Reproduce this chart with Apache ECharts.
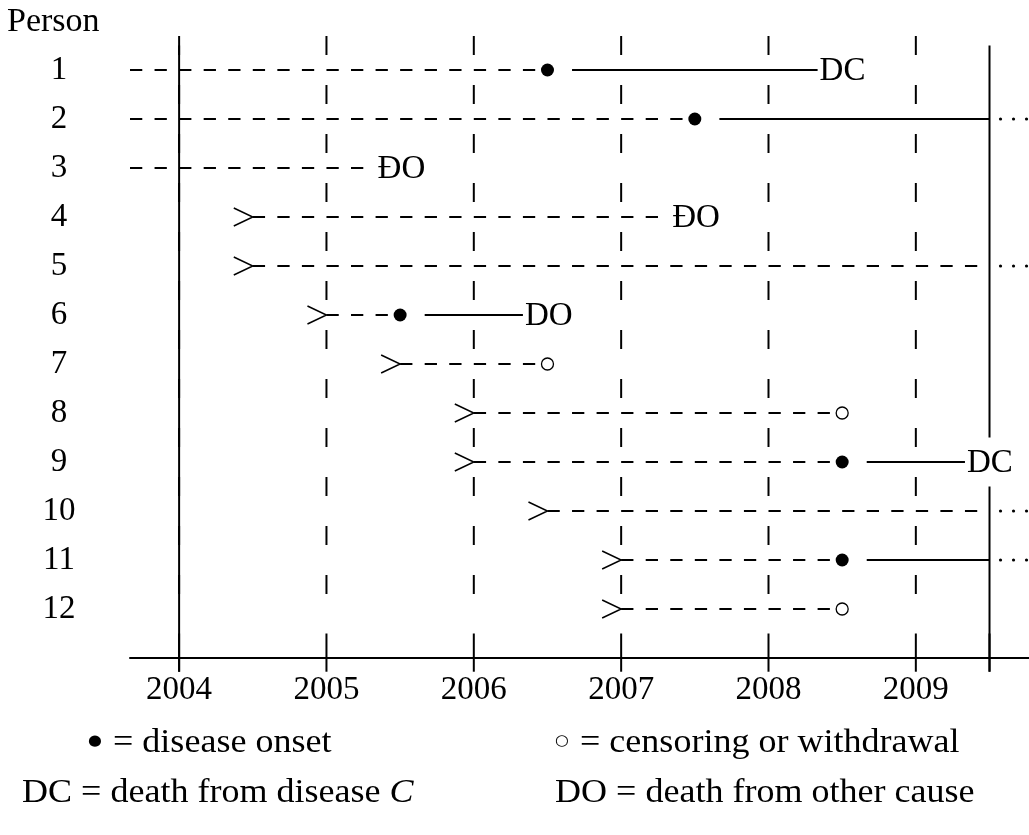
<!DOCTYPE html>
<html>
<head>
<meta charset="utf-8">
<title>Cohort follow-up diagram</title>
<script src="https://cdn.jsdelivr.net/npm/echarts@6/dist/echarts.min.js"></script>
<style>
  html, body { margin: 0; padding: 0; background: #fff; }
  #main { width: 1029px; height: 835px; }
</style>
</head>
<body>
<div id="main"></div>
<script>
// ---- data ---------------------------------------------------------------
const persons = ['1', '2', '3', '4', '5', '6', '7', '8', '9', '10', '11', '12'];
// calendar time each person enters follow-up (null = already followed before 2004)
const entryYear = [null, null, null, 2004.5, 2004.5, 2005, 2005.5, 2006, 2006, 2006.5, 2007, 2007];
// disease onset (null = no onset observed)
const onsetYear = [2006.5, 2007.5, null, null, null, 2005.5, null, null, 2008.5, null, 2008.5, null];
// end of the individual line (death, censoring, or end of study)
const endYear = [2008 + 1/3, 2009.5, 2005 + 1/3, 2007 + 1/3, 2009.5, 2006 + 1/3, 2006.5, 2008.5, 2009 + 1/3, 2009.5, 2009.5, 2008.5];
// how each line ends
const outcome = ['DC', 'open', 'DO', 'DO', 'open', 'DO', 'censored', 'censored', 'DC', 'open', 'open', 'censored'];
const endLabel = ['DC', '', 'ĐO', 'ĐO', '', 'DO', '', '', 'DC', '', '', ''];
const yearTicks = [2004, 2005, 2006, 2007, 2008, 2009];
const studyStart = 2004;
const studyEnd = 2009.5;
const legendRows = [
  ['{b|●} = disease onset', '{c|○} = censoring or withdrawal'],
  ['DC = death from disease {it|C}', 'DO = death from other cause']
];

// ---- layout / style -----------------------------------------------------
const FONT = "'Liberation Serif', 'DejaVu Serif', serif";
const FS = 33;
const LFS = 34;
const X_MIN = 2003 + 2/3;
const X_MAX = 2009.768;
const GRID_LEFT = 130;
const YEAR_PX = (1029 - GRID_LEFT) / (X_MAX - X_MIN);
const DASH = YEAR_PX / 12;          // dash and gap of follow-up lines
const ONSET_GAP = 1 / 6;            // blank space after an onset dot (years)
const ROW_AXIS = 13;                // row position of the time axis
const TICK_UP = 0.5, TICK_DOWN = 0.28;
const allTicks = yearTicks.concat([studyEnd]);

const chart = echarts.init(document.getElementById('main'), null, { renderer: 'canvas' });

function renderPerson(params, api) {
  const i = api.value(0);
  const row = i + 1;
  const late = entryYear[i] != null;
  const start = late ? entryYear[i] : X_MIN;
  const onset = onsetYear[i];
  const end = endYear[i];
  const dashEnd = onset != null ? onset : end;
  const p0 = api.coord([start, row]);
  const p1 = api.coord([dashEnd, row]);
  const kids = [];
  kids.push({
    type: 'line',
    shape: { x1: p0[0], y1: p0[1], x2: p1[0], y2: p1[1] },
    style: { stroke: '#000', lineWidth: 2, lineDash: [DASH, DASH], lineCap: 'butt' }
  });
  if (late) {
    kids.push({
      type: 'polyline',
      shape: { points: [[p0[0] - 19, p0[1] - 9], [p0[0], p0[1]], [p0[0] - 19, p0[1] + 9]] },
      style: { stroke: '#000', fill: null, lineWidth: 1.5 }
    });
  }
  if (onset != null) {
    const s = api.coord([onset + ONSET_GAP, row]);
    const e = api.coord([end, row]);
    kids.push({
      type: 'line',
      shape: { x1: s[0], y1: s[1], x2: e[0], y2: e[1] },
      style: { stroke: '#000', lineWidth: 2 }
    });
    kids.push({ type: 'circle', shape: { cx: p1[0], cy: p1[1], r: 6.5 }, style: { fill: '#000' } });
  }
  const pe = api.coord([end, row]);
  if (outcome[i] === 'censored') {
    kids.push({ type: 'circle', shape: { cx: pe[0], cy: pe[1], r: 6 },
      style: { fill: '#fff', stroke: '#000', lineWidth: 1.3 } });
  }
  if (endLabel[i]) {
    kids.push({ type: 'text', x: pe[0] + 2, y: pe[1] + 1,
      style: { text: endLabel[i], font: FS + 'px ' + FONT, fill: '#000',
        align: 'left', verticalAlign: 'middle' } });
  }
  if (outcome[i] === 'open') {
    for (let k = 0; k < 3; k++) {
      kids.push({ type: 'circle', shape: { cx: pe[0] + 11 + 13 * k, cy: pe[1], r: 1.6 }, style: { fill: '#000' } });
    }
  }
  return { type: 'group', children: kids };
}

// dashed calendar-year guides, one dash between each pair of rows
function renderYearGuide(params, api) {
  const yr = api.value(0);
  const kids = [];
  for (let k = 0; k < persons.length; k++) {
    const c = api.coord([yr, k + 0.5]);
    kids.push({ type: 'line', shape: { x1: c[0], y1: c[1] - 9.5, x2: c[0], y2: c[1] + 9.5 },
      style: { stroke: '#000', lineWidth: 2 } });
  }
  return { type: 'group', children: kids };
}

// ticks crossing the time axis
function renderTick(params, api) {
  const yr = api.value(0);
  const a = api.coord([yr, ROW_AXIS - TICK_UP]);
  const b = api.coord([yr, ROW_AXIS + TICK_DOWN]);
  return { type: 'line', shape: { x1: a[0], y1: a[1], x2: b[0], y2: b[1] },
    style: { stroke: '#000', lineWidth: 2 } };
}

// solid lines marking the start and end of the study period
function renderStudyBound(params, api) {
  const yr = api.value(0);
  // rows whose end label crosses this bound leave a gap
  const gaps = [];
  persons.forEach((p, i) => {
    if (endLabel[i] && endYear[i] < yr && endYear[i] > yr - 0.4) gaps.push(i + 1);
  });
  const kids = [];
  let from = 0.5;
  const stops = gaps.map(r => [r - 0.5, r + 0.5]).concat([[ROW_AXIS + TICK_DOWN, null]]);
  stops.forEach(([a, b]) => {
    const t = api.coord([yr, from]);
    const u = api.coord([yr, a]);
    kids.push({ type: 'line', shape: { x1: t[0], y1: t[1], x2: u[0], y2: u[1] },
      style: { stroke: '#000', lineWidth: 2 } });
    from = b;
  });
  return { type: 'group', children: kids };
}

const textStyle = { fontFamily: FONT, fontSize: FS, color: '#000' };
const legendFont = LFS + 'px ' + FONT;
const legendRich = {
  b: { fontFamily: 'DejaVu Sans', fontSize: 15, fill: '#000', padding: [0, 2, 4, 0] },
  c: { fontFamily: 'DejaVu Sans', fontSize: 15, fill: '#000', padding: [0, 2, 4, 0] },
  it: { fontStyle: 'italic', fontFamily: FONT, fontSize: LFS, fill: '#000' }
};
const LEGEND_SX = 1.06;   // Computer-Modern-like width for the key

const option = {
  backgroundColor: '#fff',
  animation: false,
  title: {
    text: 'Person', left: 2, top: 0, padding: [5, 5],
    textStyle: { fontFamily: FONT, fontSize: LFS, fontWeight: 'normal', color: '#000' }
  },
  grid: { left: GRID_LEFT, right: 0, top: 21, bottom: 835 - 658 },
  xAxis: {
    type: 'value', min: X_MIN, max: X_MAX, position: 'bottom',
    axisLine: { show: true, onZero: false, lineStyle: { color: '#000', width: 2 } },
    axisTick: { show: false },
    axisLabel: { show: true, customValues: yearTicks, margin: 16,
      formatter: v => String(Math.round(v)), ...textStyle },
    splitLine: { show: false }
  },
  yAxis: {
    type: 'value', min: 0, max: ROW_AXIS, inverse: true,
    axisLine: { show: false }, axisTick: { show: false }, splitLine: { show: false },
    axisLabel: { show: true, customValues: persons.map((p, i) => i + 1), margin: 71, align: 'center',
      formatter: v => persons[Math.round(v) - 1], ...textStyle }
  },
  graphic: [
    { type: 'text', x: 88, y: 726, scaleX: LEGEND_SX, style: { text: legendRows[0][0], font: legendFont, fill: '#000', rich: legendRich } },
    { type: 'text', x: 555, y: 726, scaleX: LEGEND_SX, style: { text: legendRows[0][1], font: legendFont, fill: '#000', rich: legendRich } },
    { type: 'text', x: 22, y: 776, scaleX: LEGEND_SX, style: { text: legendRows[1][0], font: legendFont, fill: '#000', rich: legendRich } },
    { type: 'text', x: 555, y: 776, scaleX: LEGEND_SX, style: { text: legendRows[1][1], font: legendFont, fill: '#000', rich: legendRich } }
  ],
  series: [
    { type: 'custom', name: 'year guides', clip: false, silent: true,
      data: yearTicks.map(y => [y]), renderItem: renderYearGuide },
    { type: 'custom', name: 'axis ticks', clip: false, silent: true,
      data: allTicks.map(y => [y]), renderItem: renderTick },
    { type: 'custom', name: 'study bounds', clip: false, silent: true,
      data: [[studyStart], [studyEnd]], renderItem: renderStudyBound },
    { type: 'custom', name: 'persons', clip: false, silent: true,
      data: persons.map((p, i) => [i]), renderItem: renderPerson }
  ]
};

chart.setOption(option);
</script>
</body>
</html>
